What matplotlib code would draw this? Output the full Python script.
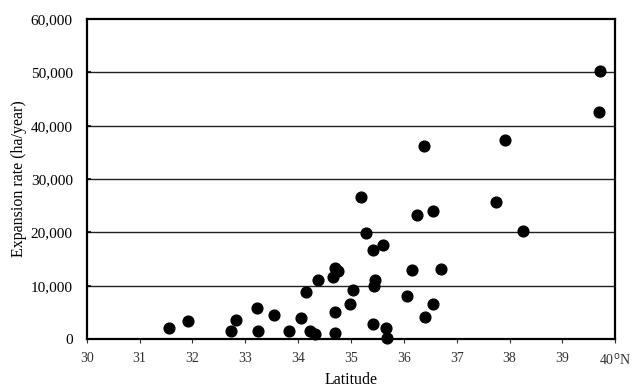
import numpy as np
import matplotlib.pyplot as plt
from matplotlib.ticker import FuncFormatter

# latitude (deg N) and expansion rate (ha/year)
latitude = [31.56, 31.92, 32.73, 32.82, 33.23, 33.24, 33.54, 33.83, 34.06, 34.14,
            34.23, 34.32, 34.38, 34.66, 34.69, 34.75, 34.69, 34.69, 34.98, 35.03,
            35.18, 35.28, 35.41, 35.42, 35.43, 35.46, 35.61, 35.67, 35.69, 36.06,
            36.15, 36.25, 36.38, 36.40, 36.55, 36.55, 36.70, 37.75, 37.92, 38.26,
            39.70, 39.71]
rate = [2000, 3440, 1560, 3630, 5880, 1560, 4500, 1560, 3940, 8810,
        1560, 870, 11000, 11560, 13250, 12810, 5000, 1060, 6500, 9250,
        26560, 19880, 16750, 2750, 9940, 11000, 17630, 2000, 190, 8000,
        12940, 23250, 36250, 4130, 24060, 6630, 13130, 25690, 37310, 20250,
        42560, 50250]

x_ticks = list(range(30, 41))
x_labels = [str(t) for t in range(30, 40)] + [r"40$^{\mathrm{o}}$N"]

plt.rcParams['font.family'] = ['Liberation Serif', 'DejaVu Serif']

fig = plt.figure(figsize=(6.33, 3.89), dpi=100)
ax = fig.add_axes([0.137, 0.1285, 0.835, 0.8225])

for yv in range(10000, 60000, 10000):
    ax.axhline(yv, color="#222222", lw=1.0, zorder=1)

ax.scatter(latitude, rate, s=60, color="black", zorder=3, clip_on=False)

ax.set_xlim(30, 40)
ax.set_ylim(0, 60000)
ax.set_xticks(x_ticks)
ax.set_xticklabels(x_labels)
ax.set_yticks(range(0, 60001, 10000))
ax.yaxis.set_major_formatter(FuncFormatter(lambda v, p: f"{int(v):,}"))

ax.tick_params(axis="x", direction="out", length=3, width=0.8, labelsize=10, pad=6, colors="#333333")
ax.tick_params(axis="y", direction="in", length=3, width=1.2, labelsize=11, pad=10)

for s in ax.spines.values():
    s.set_linewidth(1.6)
    s.set_color("black")

ax.set_xlabel("Latitude", fontsize=11.5, labelpad=3)
ax.set_ylabel("Expansion rate (ha/year)", fontsize=11.5, labelpad=3)

fig.savefig("out.png", dpi=100)
